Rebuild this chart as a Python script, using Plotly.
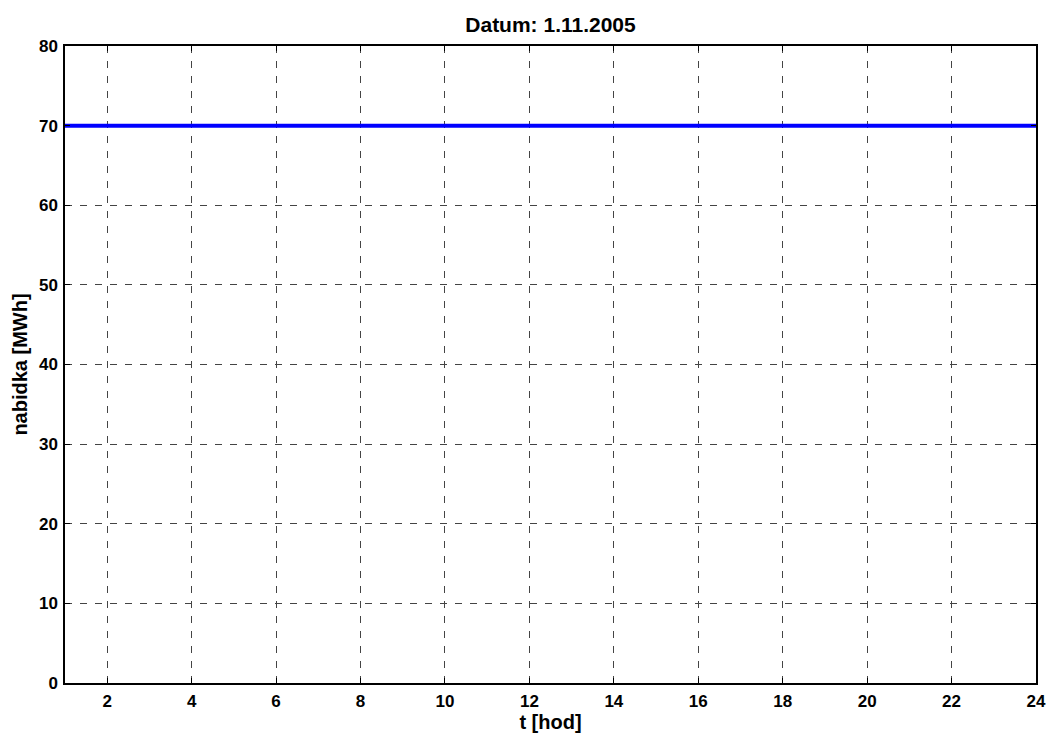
import plotly.graph_objects as go

hours = list(range(1, 25))
nabidka = [70] * 24
x_ticks = list(range(2, 25, 2))
y_ticks = list(range(0, 81, 10))

fig = go.Figure()
fig.add_trace(go.Scatter(x=hours, y=nabidka, mode="lines",
                         line=dict(color="#0000ff", width=4), showlegend=False))

font = dict(family="Liberation Sans, Arial, sans-serif", color="black")
axis_common = dict(showline=True, linecolor="black", linewidth=1.5, mirror="ticks",
                   ticks="inside", ticklen=5, tickcolor="black", tickwidth=1,
                   showgrid=True, gridcolor="#444444", gridwidth=1, griddash="7px,8px",
                   zeroline=False, tickfont=dict(size=17, **font), automargin=False)

fig.update_layout(
    width=1052, height=733,
    margin=dict(l=65, r=16, t=46, b=50),
    paper_bgcolor="white", plot_bgcolor="white",
    title=dict(text="<b>Datum: 1.11.2005</b>", x=0.5, xanchor="center",
               xref="paper", y=1 - 25/733, yanchor="middle", font=dict(size=21, **font)),
    xaxis=dict(range=[1, 24], tickvals=x_ticks, ticktext=[f"<b>{v}</b>" for v in x_ticks],
               title=dict(text="<b>t [hod]</b>", font=dict(size=20, **font), standoff=0),
               ticklabelstandoff=2,
               **axis_common),
    yaxis=dict(range=[0, 80], tickvals=y_ticks, ticktext=[f"<b>{v}</b>" for v in y_ticks],
               title=dict(text="<b>nabidka [MWh]</b>", font=dict(size=20, **font), standoff=6),
               ticklabelstandoff=2,
               **axis_common),
)
fig.write_html("out.html")
